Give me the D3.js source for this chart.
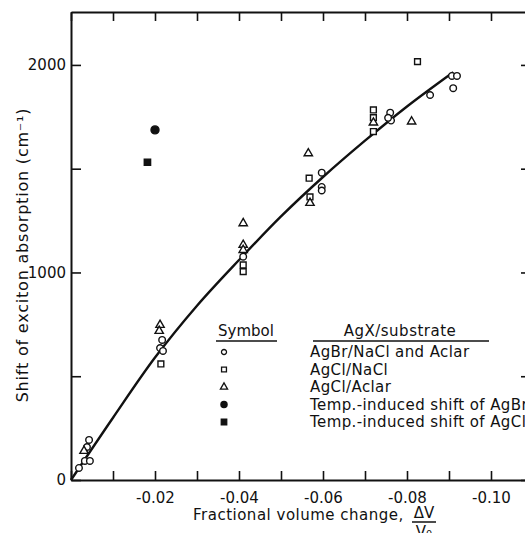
<!DOCTYPE html>
<html>
<head>
<meta charset="utf-8">
<script src="https://cdn.jsdelivr.net/npm/d3@7"></script>
<style>
  body { margin: 0; background: #fff; }
  text { font-family: "DejaVu Sans", sans-serif; fill: #111; }
</style>
</head>
<body>
<div id="chart"></div>
<script>
// fitted curve
var curveX = [0, -0.01, -0.02, -0.03, -0.04, -0.05, -0.06, -0.07, -0.08, -0.091];
var curveY = [0, 300, 590, 840, 1060, 1270, 1460, 1635, 1800, 1965];

// AgBr/NaCl and Aclar (open circles)
var brX = [-0.0019, -0.0033, -0.0038, -0.0043, -0.0045, -0.0217, -0.0212, -0.0219, -0.041, -0.0597, -0.0597, -0.0597, -0.0760, -0.0762, -0.0755, -0.0855, -0.0907, -0.0919, -0.091];
var brY = [58, 92, 159, 193, 92, 675, 636, 622, 1076, 1481, 1412, 1395, 1770, 1732, 1745, 1855, 1947, 1947, 1888];

// AgCl/NaCl (open squares)
var clNaX = [-0.0214, -0.041, -0.041, -0.0567, -0.0569, -0.072, -0.072, -0.072, -0.0825];
var clNaY = [559, 1036, 1004, 1454, 1364, 1783, 1746, 1679, 2016];

// AgCl/Aclar (open triangles)
var clAcX = [-0.0031, -0.0212, -0.0210, -0.041, -0.041, -0.041, -0.0565, -0.0569, -0.072, -0.0811];
var clAcY = [140, 747, 718, 1237, 1133, 1108, 1574, 1335, 1722, 1727];

// temperature induced shifts
var tempBrX = [-0.020], tempBrY = [1687];
var tempClX = [-0.0182], tempClY = [1531];

var xTicks = [0, -0.01, -0.02, -0.03, -0.04, -0.05, -0.06, -0.07, -0.08, -0.09, -0.10];
var yTicks = [0, 500, 1000, 1500, 2000];
var yLabels = ["0", "", "1000", "", "2000"];

var legendSymbols = ["circle", "square", "triangle", "dot", "block"];
var legendNames = [
  "AgBr/NaCl and Aclar",
  "AgCl/NaCl",
  "AgCl/Aclar",
  "Temp.-induced shift of AgBr",
  "Temp.-induced shift of AgCl"
];

var width = 525, height = 533;
var plotLeft = 71, plotTop = 12, plotRight = 533, plotBottom = 480;

var svg = d3.select("#chart").append("svg")
  .attr("width", width)
  .attr("height", height);

var x = d3.scaleLinear().domain([0, -0.11]).range([plotLeft, plotRight]);
var y = d3.scaleLinear().domain([0, 2255]).range([plotBottom, plotTop]);

function styleAxis(g) {
  g.selectAll("path.domain").attr("stroke", "#111").attr("stroke-width", 2);
  g.selectAll(".tick line").attr("stroke", "#111").attr("stroke-width", 1.6);
  g.selectAll(".tick text")
    .attr("font-size", 15)
    .attr("font-family", "DejaVu Sans, sans-serif")
    .attr("fill", "#111");
}

// bottom axis, ticks point inward
svg.append("g")
  .attr("transform", "translate(0," + plotBottom + ")")
  .call(d3.axisBottom(x).tickValues(xTicks).tickSizeInner(-9).tickSizeOuter(0).tickPadding(12)
    .tickFormat(function(d) {
      var k = Math.round(-d * 100);
      if (k === 0 || k % 2 === 1) return "";
      return d.toFixed(2);
    }))
  .call(styleAxis);

// top axis, no labels
svg.append("g")
  .attr("transform", "translate(0," + plotTop + ")")
  .call(d3.axisTop(x).tickValues(xTicks).tickSizeInner(-9).tickSizeOuter(0).tickFormat(""))
  .call(styleAxis);

// left axis
svg.append("g")
  .attr("transform", "translate(" + plotLeft + ",0)")
  .call(d3.axisLeft(y).tickValues(yTicks).tickSizeInner(-10).tickSizeOuter(0).tickPadding(5)
    .tickFormat(function(d, i) { return yLabels[i]; }))
  .call(styleAxis);

// right axis (mostly off the page)
svg.append("g")
  .attr("transform", "translate(" + plotRight + ",0)")
  .call(d3.axisRight(y).tickValues(yTicks).tickSizeInner(-12).tickSizeOuter(0).tickFormat(""))
  .call(styleAxis);

// curve
var line = d3.line()
  .x(function(d) { return x(d[0]); })
  .y(function(d) { return y(d[1]); })
  .curve(d3.curveCatmullRom);

svg.append("path")
  .datum(d3.zip(curveX, curveY))
  .attr("d", line)
  .attr("fill", "none")
  .attr("stroke", "#111")
  .attr("stroke-width", 2.4);

var shapes = {
  circle: { type: d3.symbolCircle, size: 34, fill: "#fff" },
  square: { type: d3.symbolSquare, size: 34, fill: "#fff" },
  triangle: { type: d3.symbolTriangle, size: 30, fill: "#fff" },
  dot: { type: d3.symbolCircle, size: 50, fill: "#111" },
  block: { type: d3.symbolSquare, size: 40, fill: "#111" }
};

function drawPoints(xs, ys, kind) {
  var s = shapes[kind];
  svg.append("g").selectAll("path")
    .data(d3.zip(xs, ys))
    .join("path")
      .attr("transform", function(d) { return "translate(" + x(d[0]) + "," + y(d[1]) + ")"; })
      .attr("d", d3.symbol().type(s.type).size(s.size))
      .attr("fill", s.fill)
      .attr("stroke", "#111")
      .attr("stroke-width", 1.4);
}

drawPoints(brX, brY, "circle");
drawPoints(clNaX, clNaY, "square");
drawPoints(clAcX, clAcY, "triangle");
drawPoints(tempBrX, tempBrY, "dot");
drawPoints(tempClX, tempClY, "block");

// axis titles
svg.append("text")
  .attr("transform", "translate(28,255) rotate(-90)")
  .attr("text-anchor", "middle")
  .attr("font-size", 16)
  .attr("letter-spacing", 0.8)
  .text("Shift of exciton absorption (cm\u207B\u00B9)");

svg.append("text")
  .attr("x", 193)
  .attr("y", 520)
  .attr("font-size", 15)
  .attr("letter-spacing", 0.5)
  .text("Fractional volume change,");

svg.append("text")
  .attr("x", 424).attr("y", 518)
  .attr("text-anchor", "middle")
  .attr("font-size", 15)
  .text("\u0394V");
svg.append("line")
  .attr("x1", 412).attr("x2", 436)
  .attr("y1", 522).attr("y2", 522)
  .attr("stroke", "#111").attr("stroke-width", 1.5);
svg.append("text")
  .attr("x", 424).attr("y", 537)
  .attr("text-anchor", "middle")
  .attr("font-size", 15)
  .text("V\u2080");

// legend
var legend = svg.append("g").attr("class", "legend");

legend.append("text")
  .attr("x", 246).attr("y", 336)
  .attr("text-anchor", "middle")
  .attr("font-size", 15)
  .text("Symbol");
legend.append("line")
  .attr("x1", 216).attr("x2", 277).attr("y1", 341).attr("y2", 341)
  .attr("stroke", "#111").attr("stroke-width", 1.3);

legend.append("text")
  .attr("x", 400).attr("y", 336)
  .attr("text-anchor", "middle")
  .attr("font-size", 15)
  .attr("letter-spacing", 0.5)
  .text("AgX/substrate");
legend.append("line")
  .attr("x1", 313).attr("x2", 489).attr("y1", 341).attr("y2", 341)
  .attr("stroke", "#111").attr("stroke-width", 1.3);

var legendSize = { circle: 20, square: 24, triangle: 22, dot: 30, block: 30 };

legend.selectAll("g.row")
  .data(legendNames)
  .join("g")
  .attr("class", "row")
  .each(function(d, i) {
    var g = d3.select(this);
    var cy = 352 + i * 17.5;
    var s = shapes[legendSymbols[i]];
    g.append("path")
      .attr("transform", "translate(224," + cy + ")")
      .attr("d", d3.symbol().type(s.type).size(legendSize[legendSymbols[i]]))
      .attr("fill", s.fill)
      .attr("stroke", "#111")
      .attr("stroke-width", 1.3);
    g.append("text")
      .attr("x", 310)
      .attr("y", cy + 5)
      .attr("font-size", 15)
      .attr("letter-spacing", 0.4)
      .text(d);
  });
</script>
</body>
</html>
